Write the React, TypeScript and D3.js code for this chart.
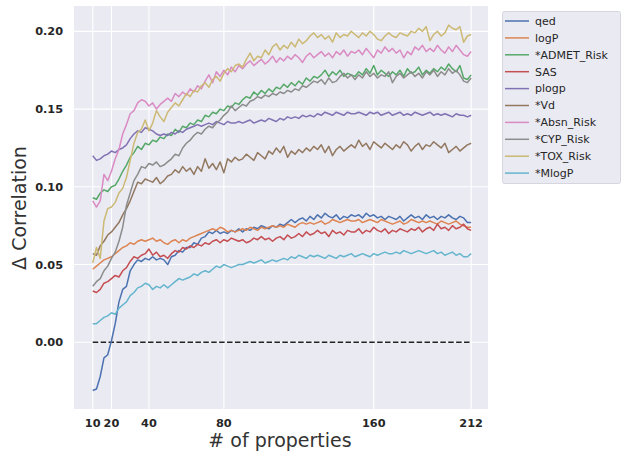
import React, { useEffect, useRef } from 'react';
import * as d3 from 'd3';

// number of properties: 10, 12, ... 212
const steps: number[] = d3.range(10, 213, 2);
const xTicks = [10, 20, 40, 80, 160, 212];
const yTicks = [0, 0.05, 0.1, 0.15, 0.2];

const names = ['qed', 'logP', '*ADMET_Risk', 'SAS', 'plogp', '*Vd', '*Absn_Risk', '*CYP_Risk', '*TOX_Risk', '*MlogP'];
const colors = ['#4c72b0', '#dd8452', '#55a868', '#c44e52', '#8172b3', '#937860', '#da8bc3', '#8c8c8c', '#ccb974', '#64b5cd'];

const qed = [
  -0.031, -0.030, -0.022, -0.010, -0.008, 0.001, 0.012, 0.026, 0.034, 0.036,
  0.046, 0.050, 0.053, 0.052, 0.054, 0.053, 0.055, 0.053, 0.054, 0.053,
  0.050, 0.055, 0.056, 0.059, 0.058, 0.061, 0.061, 0.064, 0.063, 0.067,
  0.068, 0.071, 0.070, 0.072, 0.070, 0.071, 0.070, 0.072, 0.071, 0.073,
  0.071, 0.073, 0.072, 0.074, 0.073, 0.075, 0.074, 0.073, 0.075, 0.074,
  0.076, 0.075, 0.077, 0.079, 0.077, 0.079, 0.080, 0.078, 0.081, 0.079,
  0.082, 0.080, 0.083, 0.081, 0.080, 0.082, 0.079, 0.081, 0.080, 0.082,
  0.081, 0.082, 0.080, 0.083, 0.081, 0.082, 0.080, 0.081, 0.079, 0.081,
  0.080, 0.079, 0.081, 0.078, 0.080, 0.082, 0.080, 0.081, 0.079, 0.082,
  0.080, 0.081, 0.079, 0.081, 0.080, 0.082, 0.080, 0.079, 0.081, 0.080,
  0.077, 0.077,
];
const logP = [
  0.047, 0.049, 0.051, 0.053, 0.054, 0.055, 0.057, 0.059, 0.061, 0.062,
  0.064, 0.063, 0.065, 0.066, 0.065, 0.066, 0.067, 0.065, 0.066, 0.064,
  0.063, 0.065, 0.066, 0.064, 0.066, 0.065, 0.067, 0.068, 0.069, 0.070,
  0.071, 0.072, 0.073, 0.072, 0.074, 0.073, 0.071, 0.072, 0.071, 0.072,
  0.073, 0.072, 0.074, 0.073, 0.072, 0.074, 0.073, 0.074, 0.075, 0.074,
  0.075, 0.074, 0.076, 0.075, 0.074, 0.076, 0.077, 0.076, 0.077, 0.076,
  0.077, 0.078, 0.076, 0.077, 0.079, 0.078, 0.077, 0.078, 0.079, 0.078,
  0.078, 0.079, 0.077, 0.078, 0.079, 0.078, 0.077, 0.079, 0.078, 0.077,
  0.076, 0.077, 0.078, 0.076, 0.077, 0.079, 0.078, 0.077, 0.078, 0.077,
  0.078, 0.077, 0.076, 0.078, 0.077, 0.076, 0.077, 0.078, 0.076, 0.075,
  0.074, 0.074,
];
const admet = [
  0.093, 0.092, 0.096, 0.098, 0.097, 0.100, 0.101, 0.105, 0.110, 0.114,
  0.119, 0.122, 0.126, 0.124, 0.128, 0.127, 0.130, 0.129, 0.132, 0.131,
  0.134, 0.133, 0.137, 0.135, 0.139, 0.138, 0.141, 0.140, 0.143, 0.142,
  0.146, 0.145, 0.148, 0.147, 0.150, 0.149, 0.152, 0.151, 0.154, 0.153,
  0.156, 0.158, 0.157, 0.161, 0.159, 0.162, 0.160, 0.163, 0.161, 0.164,
  0.163, 0.166, 0.164, 0.167, 0.165, 0.168, 0.166, 0.170, 0.168, 0.171,
  0.170, 0.172, 0.175, 0.171, 0.174, 0.172, 0.175, 0.171, 0.173, 0.172,
  0.171, 0.174, 0.172, 0.176, 0.173, 0.178, 0.172, 0.175, 0.173, 0.171,
  0.174, 0.172, 0.175, 0.171, 0.176, 0.173, 0.174, 0.177, 0.172, 0.175,
  0.173, 0.176, 0.174, 0.177, 0.175, 0.179, 0.176, 0.174, 0.178, 0.170,
  0.169, 0.172,
];
const sas = [
  0.033, 0.032, 0.034, 0.038, 0.039, 0.041, 0.043, 0.042, 0.046, 0.048,
  0.052, 0.055, 0.054, 0.056, 0.057, 0.060, 0.056, 0.058, 0.055, 0.056,
  0.054, 0.057, 0.059, 0.058, 0.061, 0.060, 0.062, 0.061, 0.063, 0.062,
  0.064, 0.063, 0.065, 0.066, 0.064, 0.066, 0.065, 0.067, 0.066, 0.065,
  0.066, 0.064, 0.065, 0.067, 0.066, 0.068, 0.066, 0.067, 0.065, 0.067,
  0.068, 0.066, 0.069, 0.067, 0.068, 0.070, 0.068, 0.071, 0.069, 0.070,
  0.072, 0.070, 0.071, 0.068, 0.072, 0.070, 0.071, 0.069, 0.072, 0.071,
  0.071, 0.073, 0.070, 0.072, 0.071, 0.074, 0.072, 0.071, 0.073, 0.070,
  0.072, 0.071, 0.073, 0.072, 0.071, 0.073, 0.072, 0.074, 0.071, 0.073,
  0.074, 0.072, 0.076, 0.073, 0.074, 0.072, 0.075, 0.073, 0.074, 0.076,
  0.073, 0.072,
];
const plogp = [
  0.120, 0.117, 0.118, 0.120, 0.121, 0.123, 0.122, 0.124, 0.125, 0.127,
  0.131, 0.134, 0.136, 0.135, 0.138, 0.137, 0.136, 0.134, 0.133, 0.134,
  0.133, 0.135, 0.134, 0.136, 0.135, 0.137, 0.138, 0.139, 0.140, 0.139,
  0.140, 0.141, 0.140, 0.142, 0.141, 0.140, 0.142, 0.141, 0.141, 0.142,
  0.141, 0.142, 0.143, 0.141, 0.142, 0.143, 0.142, 0.144, 0.143, 0.142,
  0.144, 0.143, 0.145, 0.144, 0.145, 0.144, 0.146, 0.145, 0.146, 0.145,
  0.147, 0.146, 0.148, 0.147, 0.146, 0.148, 0.147, 0.146, 0.148, 0.147,
  0.147, 0.148, 0.147, 0.146, 0.148, 0.147, 0.148, 0.146, 0.147, 0.148,
  0.146, 0.147, 0.148, 0.146, 0.147, 0.146, 0.148, 0.147, 0.146, 0.147,
  0.148, 0.146, 0.147, 0.146, 0.147, 0.146, 0.145, 0.147, 0.146, 0.146,
  0.145, 0.146,
];
const vd = [
  0.057, 0.056, 0.062, 0.065, 0.069, 0.071, 0.074, 0.077, 0.082, 0.086,
  0.091, 0.097, 0.103, 0.102, 0.105, 0.104, 0.103, 0.106, 0.102, 0.104,
  0.107, 0.108, 0.111, 0.109, 0.113, 0.110, 0.112, 0.108, 0.113, 0.110,
  0.118, 0.112, 0.115, 0.111, 0.116, 0.109, 0.118, 0.116, 0.119, 0.117,
  0.118, 0.121, 0.119, 0.117, 0.122, 0.120, 0.118, 0.123, 0.121, 0.125,
  0.122, 0.126, 0.119, 0.123, 0.121, 0.124, 0.122, 0.125, 0.123, 0.126,
  0.124, 0.127, 0.122, 0.126, 0.120, 0.124, 0.126, 0.123, 0.125, 0.127,
  0.125, 0.130, 0.126, 0.128, 0.124, 0.129, 0.127, 0.125, 0.128, 0.126,
  0.124, 0.127, 0.125, 0.129, 0.127, 0.123, 0.126, 0.128, 0.124, 0.127,
  0.126, 0.129, 0.127, 0.125, 0.128, 0.122, 0.124, 0.126, 0.123, 0.125,
  0.127, 0.128,
];
const absn = [
  0.091, 0.087, 0.091, 0.108, 0.104, 0.110, 0.118, 0.124, 0.134, 0.140,
  0.147, 0.149, 0.154, 0.156, 0.155, 0.152, 0.154, 0.150, 0.153, 0.155,
  0.157, 0.155, 0.160, 0.158, 0.161, 0.159, 0.163, 0.161, 0.165, 0.163,
  0.168, 0.172, 0.167, 0.174, 0.171, 0.175, 0.172, 0.177, 0.174, 0.178,
  0.176, 0.179, 0.181, 0.178, 0.180, 0.182, 0.179, 0.181, 0.184, 0.180,
  0.183, 0.181, 0.184, 0.182, 0.185, 0.183, 0.180, 0.184, 0.186, 0.183,
  0.185, 0.187, 0.184, 0.186, 0.183, 0.187, 0.185, 0.188, 0.184, 0.187,
  0.186, 0.188, 0.185, 0.189, 0.186, 0.183, 0.188, 0.186, 0.190, 0.187,
  0.189, 0.186, 0.188, 0.183, 0.187, 0.185, 0.190, 0.188, 0.191, 0.187,
  0.189, 0.187, 0.191, 0.188, 0.186, 0.190, 0.187, 0.191, 0.188, 0.185,
  0.184, 0.187,
];
const cyp = [
  0.036, 0.039, 0.041, 0.046, 0.049, 0.054, 0.058, 0.065, 0.074, 0.088,
  0.096, 0.104, 0.108, 0.113, 0.112, 0.115, 0.114, 0.116, 0.113, 0.114,
  0.116, 0.118, 0.121, 0.120, 0.125, 0.128, 0.130, 0.133, 0.135, 0.134,
  0.137, 0.139, 0.138, 0.141, 0.143, 0.146, 0.148, 0.152, 0.149, 0.151,
  0.153, 0.152, 0.155, 0.156, 0.158, 0.157, 0.159, 0.158, 0.160, 0.159,
  0.161, 0.160, 0.162, 0.161, 0.163, 0.162, 0.165, 0.164, 0.166, 0.168,
  0.167, 0.169, 0.166, 0.170, 0.167, 0.168, 0.171, 0.173, 0.170, 0.172,
  0.169, 0.172, 0.170, 0.174, 0.171, 0.173, 0.170, 0.172, 0.171, 0.174,
  0.167, 0.171, 0.173, 0.170, 0.172, 0.174, 0.171, 0.173, 0.170, 0.174,
  0.172, 0.175, 0.171, 0.174, 0.172, 0.176, 0.173, 0.175, 0.172, 0.168,
  0.167, 0.170,
];
const tox = [
  0.051, 0.061, 0.054, 0.078, 0.086, 0.087, 0.090, 0.096, 0.099, 0.106,
  0.117, 0.128, 0.135, 0.137, 0.143, 0.136, 0.141, 0.149, 0.145, 0.142,
  0.148, 0.151, 0.154, 0.152, 0.156, 0.160, 0.158, 0.162, 0.161, 0.165,
  0.167, 0.164, 0.169, 0.171, 0.168, 0.173, 0.176, 0.174, 0.178, 0.179,
  0.177, 0.182, 0.186, 0.181, 0.184, 0.183, 0.188, 0.185, 0.190, 0.192,
  0.188, 0.191, 0.189, 0.193, 0.190, 0.195, 0.192, 0.194, 0.197, 0.199,
  0.196, 0.198, 0.195, 0.197, 0.193, 0.199, 0.196, 0.198, 0.197, 0.200,
  0.198, 0.196, 0.199, 0.197, 0.200, 0.198, 0.195, 0.194, 0.197, 0.199,
  0.197, 0.196, 0.199, 0.198, 0.197, 0.200, 0.199, 0.202, 0.200, 0.203,
  0.194, 0.198, 0.200, 0.197, 0.199, 0.204, 0.202, 0.201, 0.203, 0.193,
  0.197, 0.198,
];
const mlogp = [
  0.012, 0.012, 0.014, 0.016, 0.017, 0.019, 0.018, 0.022, 0.024, 0.026,
  0.030, 0.032, 0.035, 0.036, 0.038, 0.037, 0.034, 0.036, 0.035, 0.037,
  0.035, 0.037, 0.039, 0.041, 0.040, 0.041, 0.042, 0.044, 0.043, 0.045,
  0.046, 0.045, 0.047, 0.049, 0.048, 0.050, 0.049, 0.048, 0.049, 0.050,
  0.050, 0.051, 0.052, 0.051, 0.052, 0.053, 0.051, 0.052, 0.053, 0.052,
  0.053, 0.054, 0.053, 0.055, 0.054, 0.056, 0.055, 0.054, 0.056, 0.055,
  0.056, 0.055, 0.054, 0.056, 0.055, 0.054, 0.056, 0.055, 0.056, 0.057,
  0.055, 0.056, 0.057, 0.056, 0.055, 0.057, 0.056, 0.057, 0.058, 0.057,
  0.057, 0.058, 0.057, 0.059, 0.058, 0.057, 0.058, 0.059, 0.058, 0.057,
  0.058, 0.059, 0.057, 0.058, 0.056, 0.057, 0.058, 0.056, 0.057, 0.055,
  0.055, 0.057,
];

const seriesValues = [qed, logP, admet, sas, plogp, vd, absn, cyp, tox, mlogp];

const W = 621;
const H = 452;
const plot = { left: 74, right: 488, top: 6, bottom: 409 };

export default function App() {
  const ref = useRef<SVGSVGElement>(null);

  useEffect(() => {
    const svg = d3.select(ref.current);
    svg.selectAll('*').remove();

    const x = d3.scaleLinear().domain([0, 221]).range([plot.left, plot.right]);
    const y = d3.scaleLinear().domain([-0.0429, 0.2163]).range([plot.bottom, plot.top]);

    svg.append('rect')
      .attr('x', plot.left).attr('y', plot.top)
      .attr('width', plot.right - plot.left).attr('height', plot.bottom - plot.top)
      .attr('fill', '#eaeaf2');

    // grid
    svg.append('g').selectAll('line').data(xTicks).join('line')
      .attr('x1', d => x(d)).attr('x2', d => x(d))
      .attr('y1', plot.top).attr('y2', plot.bottom)
      .attr('stroke', '#fff').attr('stroke-width', 1.1);
    svg.append('g').selectAll('line').data(yTicks).join('line')
      .attr('x1', plot.left).attr('x2', plot.right)
      .attr('y1', d => y(d)).attr('y2', d => y(d))
      .attr('stroke', '#fff').attr('stroke-width', 1.1);

    // zero line
    svg.append('line')
      .attr('x1', x(10)).attr('x2', x(212))
      .attr('y1', y(0)).attr('y2', y(0))
      .attr('stroke', '#222').attr('stroke-width', 1.6)
      .attr('stroke-dasharray', '5.5,2.4');

    const line = d3.line<number>()
      .x((_, i) => x(steps[i]))
      .y(d => y(d));

    seriesValues.forEach((vals, k) => {
      svg.append('path')
        .datum(vals)
        .attr('d', line)
        .attr('fill', 'none')
        .attr('stroke', colors[k])
        .attr('stroke-width', 1.5)
        .attr('stroke-linejoin', 'round');
    });

    // tick labels
    const font = '"DejaVu Sans", sans-serif';
    svg.append('g').selectAll('text').data(xTicks).join('text')
      .attr('x', d => x(d)).attr('y', 427)
      .attr('text-anchor', 'middle')
      .attr('font-family', font).attr('font-size', 11.3).attr('font-weight', 'bold')
      .attr('fill', '#262626')
      .text(d => d);
    svg.append('g').selectAll('text').data(yTicks).join('text')
      .attr('x', 63).attr('y', d => y(d)).attr('dy', '0.35em')
      .attr('text-anchor', 'end')
      .attr('font-family', font).attr('font-size', 11.3).attr('font-weight', 'bold')
      .attr('fill', '#262626')
      .text(d => d3.format('.2f')(d));

    // axis titles
    svg.append('text')
      .attr('x', 280).attr('y', 446.5)
      .attr('text-anchor', 'middle')
      .attr('font-family', font).attr('font-size', 19)
      .attr('fill', '#333')
      .text('# of properties');
    svg.append('text')
      .attr('transform', 'translate(25.5, 208) rotate(-90)')
      .attr('text-anchor', 'middle')
      .attr('font-family', font).attr('font-size', 19)
      .attr('fill', '#333')
      .text('Δ Correlation');

    // legend
    const lg = svg.append('g').attr('transform', 'translate(502, 11)');
    lg.append('rect')
      .attr('x', 0.5).attr('y', 0.5).attr('width', 118).attr('height', 172).attr('rx', 2)
      .attr('fill', '#eaeaf2').attr('stroke', '#d6d6de');
    names.forEach((name, k) => {
      const yy = 10 + k * 16.9;
      lg.append('line')
        .attr('x1', 3).attr('x2', 27).attr('y1', yy).attr('y2', yy)
        .attr('stroke', colors[k]).attr('stroke-width', 1.5);
      lg.append('text')
        .attr('x', 33).attr('y', yy).attr('dy', '0.35em')
        .attr('font-family', font).attr('font-size', 11)
        .attr('fill', '#262626')
        .text(name);
    });
  }, []);

  return (
    <svg ref={ref} width={W} height={H}
      style={{ position: 'absolute', left: 0, top: 0, background: '#fff' }} />
  );
}
